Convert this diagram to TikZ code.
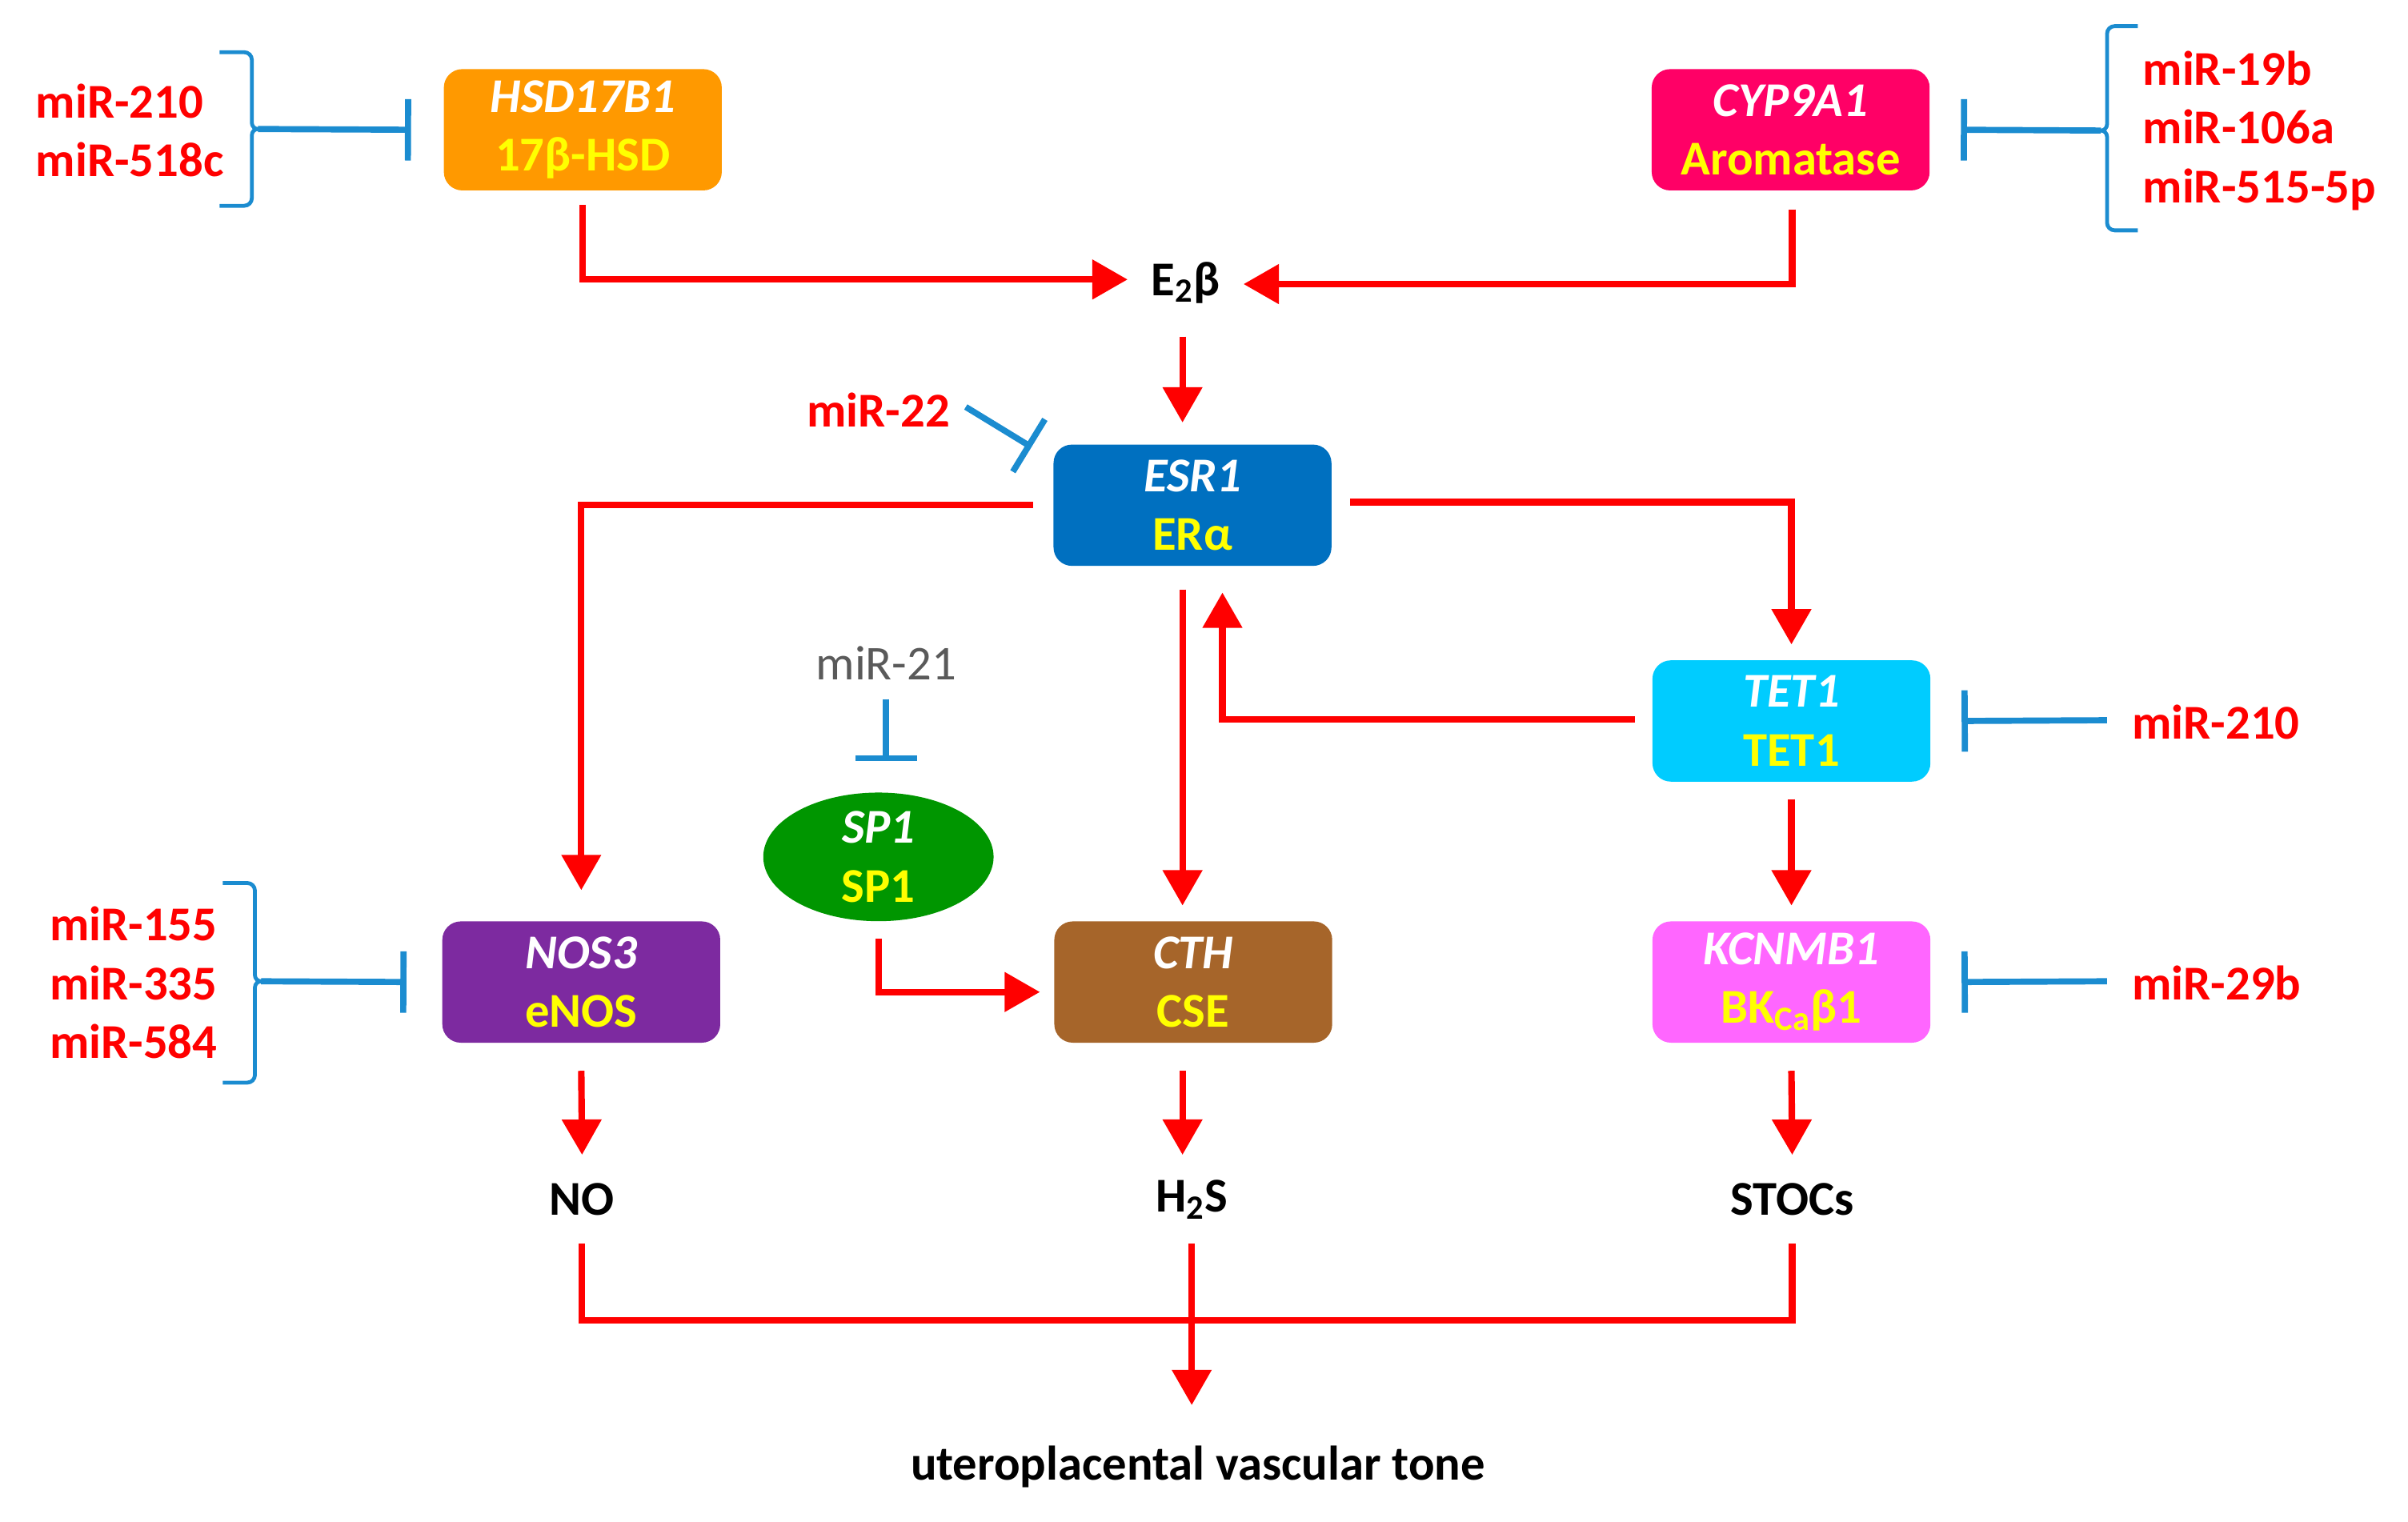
\documentclass[tikz,border=0pt]{standalone}
\usepackage{fontspec}
\setmainfont{Carlito}
\usetikzlibrary{arrows.meta,calc,shapes.geometric}
\definecolor{cOrange}{RGB}{255,153,0}
\definecolor{cPink}{RGB}{255,0,102}
\definecolor{cBlue}{RGB}{0,112,192}
\definecolor{cCyan}{RGB}{0,204,255}
\definecolor{cMag}{RGB}{255,102,255}
\definecolor{cPurple}{RGB}{125,42,160}
\definecolor{cBrown}{RGB}{166,101,42}
\definecolor{cGreen}{RGB}{0,150,0}
\definecolor{cRed}{RGB}{255,0,0}
\definecolor{cInh}{RGB}{27,140,208}
\definecolor{cYel}{RGB}{255,255,0}
\definecolor{cGray}{RGB}{90,90,90}
\begin{document}
\begin{tikzpicture}[x=0.02cm,y=-0.02cm,
  fnt/.style={font=\fontsize{18}{21.8}\selectfont},
  gene/.style={fnt,font=\fontsize{18}{21.8}\selectfont\bfseries,rectangle,rounded corners=0.24cm,minimum width=3.62cm,minimum height=1.58cm,inner sep=0pt,text=white,align=center},
  prod/.style={fnt,font=\fontsize{18}{21.8}\selectfont\bfseries,text=black,inner sep=0pt},
  mir/.style={fnt,font=\fontsize{18}{21.8}\selectfont\bfseries,text=cRed,inner sep=0pt,align=left},
  arr/.style={draw=cRed,line width=0.085cm,-{Triangle[length=0.46cm,width=0.5cm]}},
  redline/.style={draw=cRed,line width=0.085cm},
  inh/.style={draw=cInh,line width=0.08cm,-{Bar[width=0.8cm,line width=0.08cm]}},
  brace/.style={draw=cInh,line width=0.05cm}]
\useasboundingbox (0,0) rectangle (1568,991);

% gene / protein boxes
\node[gene,fill=cOrange] (hsd) at (379.5,84.5) {\textit{HSD17B1}\\\textcolor{cYel}{17β-HSD}};
\node[gene,fill=cPink] (cyp) at (1166,84.5) {\textit{CYP9A1}\\\textcolor{cYel}{Aromatase}};
\node[gene,fill=cBlue] (esr) at (776.5,329) {\textit{ESR1}\\\textcolor{cYel}{ERα}};
\node[gene,fill=cCyan] (tet) at (1166.5,469.5) {\textit{TET1}\\\textcolor{cYel}{TET1}};
\node[gene,fill=cMag] (kcn) at (1166.5,639.5) {\textit{KCNMB1}\\\textcolor{cYel}{BK\textsubscript{Ca}β1}};
\node[gene,fill=cPurple] (nos) at (378.5,639.5) {\textit{NOS3}\\\textcolor{cYel}{eNOS}};
\node[gene,fill=cBrown] (cth) at (777,639.5) {\textit{CTH}\\\textcolor{cYel}{CSE}};
\node[gene,ellipse,fill=cGreen,minimum width=3.0cm,minimum height=1.52cm,rounded corners=0pt] (sp1) at (572,558) {\textit{SP1}\\\textcolor{cYel}{SP1}};

% products
\node[prod] (e2) at (772,184) {E\textsubscript{2}β};
\node[prod] (no) at (379,781) {NO};
\node[prod] (h2s) at (776,781) {H\textsubscript{2}S};
\node[prod] (stocs) at (1167,781) {STOCs};
\node[prod] (tone) at (780,955) {uteroplacental vascular tone};

% miRNA labels
\node[mir,anchor=west] (m1) at (23,85) {miR-210\\miR-518c};
\node[mir,anchor=west] (m2) at (1395,85) {miR-19b\\miR-106a\\miR-515-5p};
\node[mir] (m22) at (572,267) {miR-22};
\node[mir,text=cGray,font=\fontsize{18}{21.8}\selectfont] (m21) at (577,432) {miR-21};
\node[mir,anchor=west] (m210) at (1388,470) {miR-210};
\node[mir,anchor=west] (m29) at (1388,640) {miR-29b};
\node[mir,anchor=west] (m3) at (32,640) {miR-155\\miR-335\\miR-584};

% braces
\draw[brace] (143,34) -- (159,34) to[out=0,in=90] (164,39) -- (164,80) to[out=-90,in=180] (168,84)
  to[out=180,in=90] (164,88) -- (164,129) to[out=-90,in=0] (159,134) -- (143,134);
\coordinate (b1) at (168,84);
\draw[brace] (1392,17) -- (1377,17) to[out=180,in=90] (1372,22) -- (1372,81) to[out=-90,in=0] (1368,85)
  to[out=0,in=90] (1372,89) -- (1372,145) to[out=-90,in=180] (1377,150) -- (1392,150);
\coordinate (b2) at (1368,85);
\draw[brace] (145,575) -- (161,575) to[out=0,in=90] (166,580) -- (166,635) to[out=-90,in=180] (170,639)
  to[out=180,in=90] (166,643) -- (166,700) to[out=-90,in=0] (161,705) -- (145,705);
\coordinate (b3) at (170,639);

% inhibitions
\draw[inh] (b1) -- ($(hsd.west)+(-21,0)$);
\draw[inh] (b2) -- ($(cyp.east)+(20,0)$);
\draw[inh] (b3) -- ($(nos.west)+(-23,0)$);
\draw[inh] ($(m22.east)+(10,-2)$) -- ($(esr.north west)+(-14,2)$);
\draw[inh] ($(m21.south)+(0,12)$) -- ($(m21.south |- sp1.north)+(0,-20)$);
\draw[inh] ($(m210.west)+(-16,-1)$) -- ($(tet.east)+(20,0)$);
\draw[inh] ($(m29.west)+(-16,-1)$) -- ($(kcn.east)+(20,0)$);

% activations
\draw[arr] ($(hsd.south)+(0,9)$) |- ($(e2.west)+(-15,-2)$);
\draw[arr] ($(cyp.south)+(1,12)$) |- ($(e2.east)+(15,1)$);
\draw[arr] ($(esr.north)+(-6.5,-70)$) -- ($(esr.north)+(-6.5,-14)$);
\draw[arr] ($(esr.west)+(-13,0)$) -| ($(nos.north)+(0,-20)$);
\draw[arr] ($(esr.east)+(12,-2)$) -| ($(tet.north)+(0,-10)$);
\draw[arr] ($(esr.south)+(-6.5,15)$) -- ($(cth.north)+(-7,-10)$);
\draw[arr] ($(tet.west)+(-11,-1)$) -| ($(esr.south)+(19.5,17)$);
\draw[arr] ($(tet.south)+(0,11)$) -- ($(kcn.north)+(0,-10)$);
\draw[arr] ($(sp1.south)+(0,11)$) |- ($(cth.west)+(-9,6.5)$);
\draw[arr] ($(nos.south)+(0,18)$) -- ($(no.center)+(0,-29)$);
\draw[arr] ($(cth.south)+(-7,18)$) -- ($(h2s.center)+(-6,-29)$);
\draw[arr] ($(kcn.south)+(0,18)$) -- ($(stocs.center)+(0,-29)$);
\draw[redline] ($(no.center)+(0,29)$) |- ($(h2s.center)+(0,79)$) -| ($(stocs.center)+(0,29)$);
\draw[arr] ($(h2s.center)+(0,29)$) -- ($(tone.center)+(-4,-40)$);
\end{tikzpicture}
\end{document}
